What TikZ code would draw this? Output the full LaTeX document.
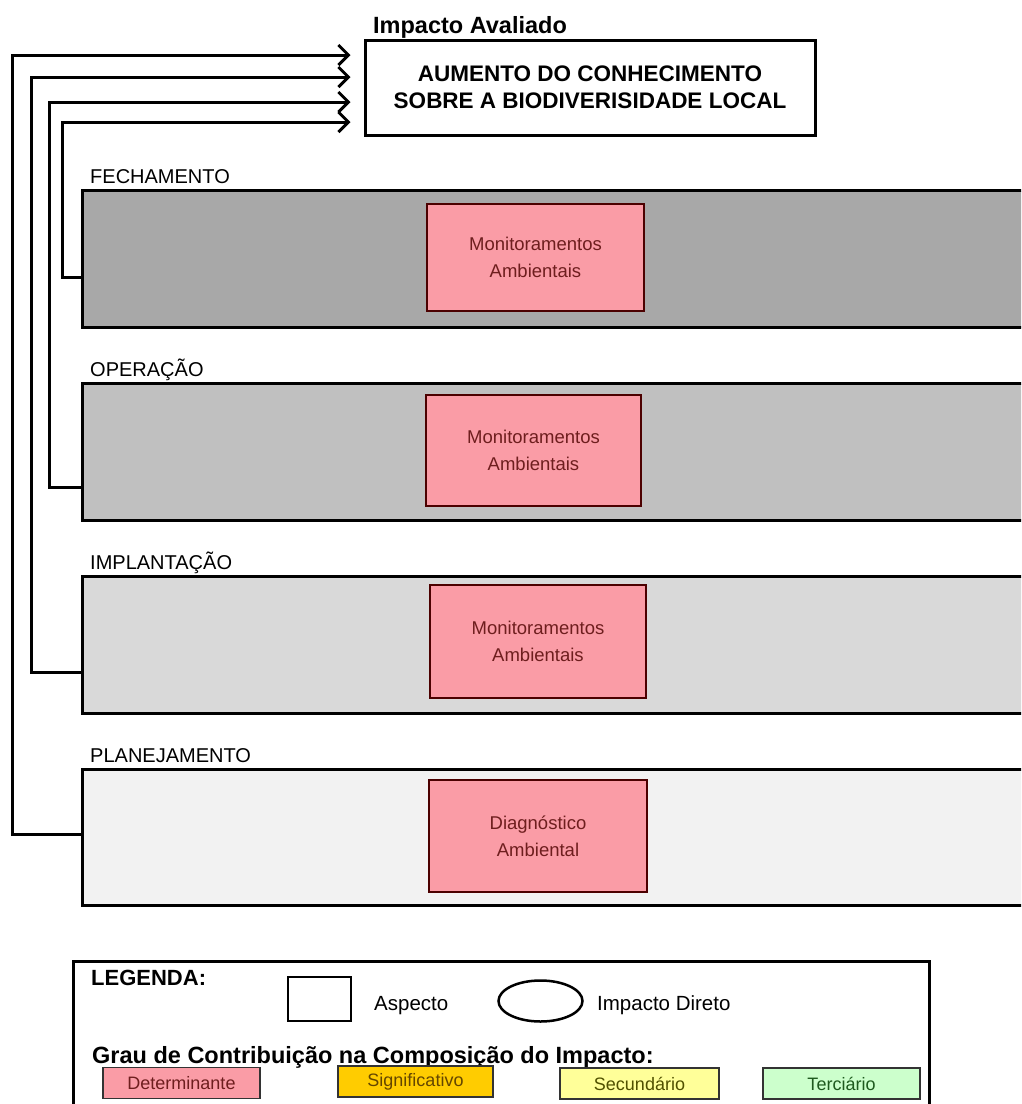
\documentclass[tikz,border=0pt]{standalone}
\usepackage{fontspec}
\setmainfont{Liberation Sans}
\usetikzlibrary{arrows.meta,shapes.geometric}
\definecolor{pinkbox}{RGB}{250,156,166}
\definecolor{gFech}{RGB}{168,168,168}
\definecolor{gOper}{RGB}{192,192,192}
\definecolor{gImpl}{RGB}{217,217,217}
\definecolor{gPlan}{RGB}{242,242,242}
\definecolor{signif}{RGB}{255,204,0}
\definecolor{secund}{RGB}{255,255,153}
\definecolor{terc}{RGB}{204,255,204}
\definecolor{pinktext}{RGB}{110,30,30}
\definecolor{signtext}{RGB}{100,70,0}
\definecolor{sectext}{RGB}{80,80,0}
\definecolor{tertext}{RGB}{30,90,30}
\tikzset{
  band/.style={draw=black, line width=3pt, inner sep=0pt, anchor=north west, minimum width=980pt},
  aspbox/.style={draw=black!70!red, line width=1.8pt, fill=pinkbox, inner sep=0pt, align=center, text=pinktext, font=\fontsize{18.5}{27}\selectfont},
  phase/.style={anchor=base west, font=\fontsize{20}{24}\selectfont, inner sep=0pt},
  conn/.style={line width=3pt, -{Straight Barb[length=10pt,width=20pt,line width=3pt]}, shorten >=13pt},
  legbox/.style={draw=black!80, line width=1.8pt, inner sep=0pt, minimum height=31pt, font=\fontsize{18}{22}\selectfont},
}
\begin{document}
\begin{tikzpicture}[x=1pt,y=-1pt]
\useasboundingbox (0,0) rectangle (1021,1104);
\clip (0,0) rectangle (1021,1104);

% title
\node[anchor=base west, inner sep=0pt, font=\bfseries\fontsize{23.5}{26}\selectfont] (ttl) at (373,33) {Impacto Avaliado};
\node[draw=black, line width=3pt, minimum width=450pt, minimum height=95pt, inner sep=0pt, align=center,
      font=\bfseries\fontsize{22.5}{27}\selectfont] (main) at (590,87.5) {AUMENTO DO CONHECIMENTO\\SOBRE A BIODIVERISIDADE LOCAL};

% bands
\node[band, fill=gFech, minimum height=137pt] (fech) at (81,189) {};
\node[band, fill=gOper, minimum height=137pt] (oper) at (81,382) {};
\node[band, fill=gImpl, minimum height=137pt] (impl) at (81,575) {};
\node[band, fill=gPlan, minimum height=136pt] (plan) at (81,768) {};

\node[phase] (lfech) at (90,183) {FECHAMENTO};
\node[phase] (loper) at (90,376) {OPERAÇÃO};
\node[phase] (limpl) at (90,569) {IMPLANTAÇÃO};
\node[phase] (lplan) at (90,762) {PLANEJAMENTO};

% aspect boxes
\node[aspbox, minimum width=217pt, minimum height=107pt] (a1) at (535.5,257.5) {Monitoramentos\\Ambientais};
\node[aspbox, minimum width=215pt, minimum height=111pt] (a2) at (533.5,450.5) {Monitoramentos\\Ambientais};
\node[aspbox, minimum width=216pt, minimum height=113pt] (a3) at (538,641.5) {Monitoramentos\\Ambientais};
\node[aspbox, minimum width=218pt, minimum height=112pt] (a4) at (538,836) {Diagnóstico\\Ambiental};

% connector routing coordinates
\coordinate (y1) at (0,55);
\coordinate (y2) at (0,77);
\coordinate (y3) at (0,102);
\coordinate (y4) at (0,122);
\coordinate (v1) at (12,834);
\coordinate (v2) at (31,672);
\coordinate (v3) at (49,487);
\coordinate (v4) at (62,277);

\draw[conn] (plan.west |- v1) -- (v1) -- (v1 |- y1) -- (main.west |- y1);
\draw[conn] (impl.west |- v2) -- (v2) -- (v2 |- y2) -- (main.west |- y2);
\draw[conn] (oper.west |- v3) -- (v3) -- (v3 |- y3) -- (main.west |- y3);
\draw[conn] (fech.west |- v4) -- (v4) -- (v4 |- y4) -- (main.west |- y4);

% legend
\node[draw=black, line width=2.5pt, anchor=north west, minimum width=856pt, minimum height=200pt, inner sep=0pt] (leg) at (72,960) {};
\node[anchor=base west, inner sep=0pt, font=\bfseries\fontsize{22}{24}\selectfont] (legt) at (91,985) {LEGENDA:};
\node[draw=black, line width=2.5pt, minimum width=63pt, minimum height=44pt, inner sep=0pt] (lsq) at (319.5,999) {};
\node[anchor=base west, inner sep=0pt, font=\fontsize{20.5}{22}\selectfont] (lasp) at (374,1010) {Aspecto};
\node[draw=black, line width=2.5pt, ellipse, minimum width=84pt, minimum height=41pt, inner sep=0pt] (lell) at (540.5,1001) {};
\node[anchor=base west, inner sep=0pt, font=\fontsize{20.5}{22}\selectfont] (limp) at (597,1010) {Impacto Direto};
\node[anchor=base west, inner sep=0pt, font=\bfseries\fontsize{23.5}{26}\selectfont] (lgrau) at (92,1063) {Grau de Contribuição na Composição do Impacto:};

\node[legbox, fill=pinkbox, text=pinktext, minimum width=157pt] (ld) at (181.5,1083) {Determinante};
\node[legbox, fill=signif, text=signtext, minimum width=155pt] (ls) at (415.5,1081.5) {Significativo};
\node[legbox, fill=secund, text=sectext, minimum width=159pt] (lse) at (639.5,1083.5) {Secundário};
\node[legbox, fill=terc, text=tertext, minimum width=157pt] (lt) at (841.5,1083.5) {Terciário};
\end{tikzpicture}
\end{document}
